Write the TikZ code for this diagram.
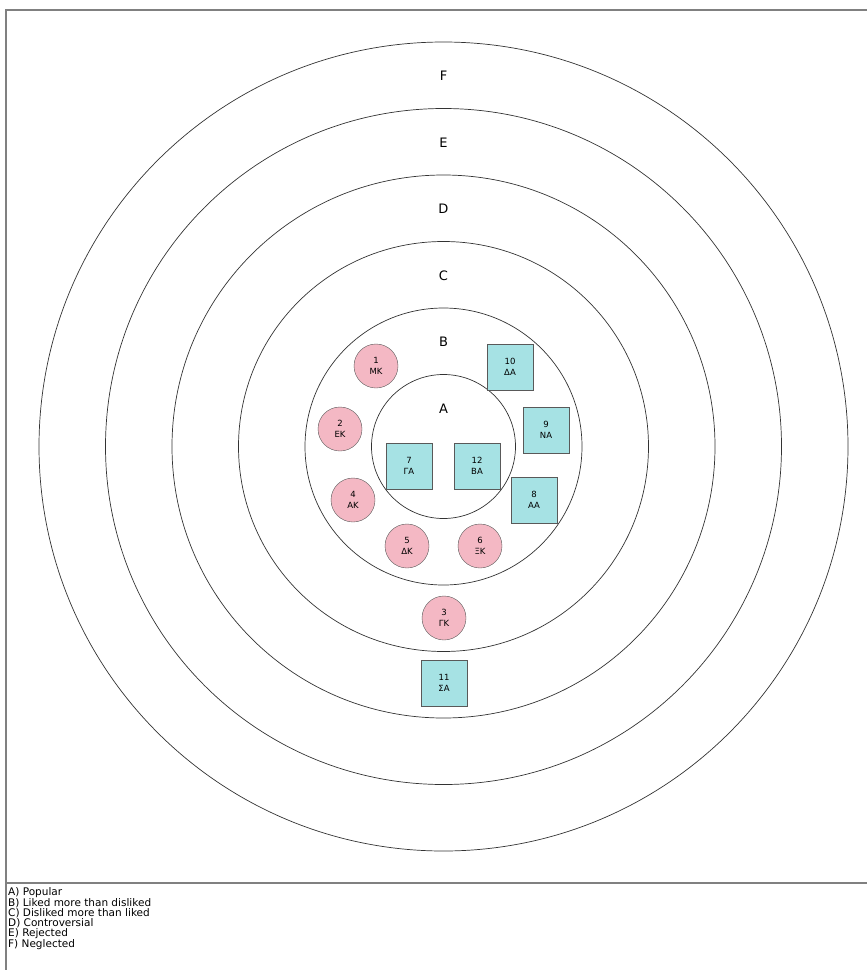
\documentclass[tikz,border=0pt]{standalone}
\usepackage{fontspec}
\setmainfont{DejaVu Sans}
\definecolor{girlpink}{RGB}{244,184,196}
\definecolor{boycyan}{RGB}{166,226,228}
\begin{document}
\begin{tikzpicture}[x=1pt, y=-1pt,
  frame/.style={draw=black!50, line width=1.6pt},
  ring/.style={draw=black!80, line width=0.7pt},
  zone/.style={font=\fontsize{13}{13}\selectfont, inner sep=0pt},
  girl/.style={circle, draw=black!65, fill=girlpink, minimum size=44pt,
               inner sep=0pt, align=center,
               font=\fontsize{8.5}{11}\selectfont},
  boy/.style={rectangle, draw=black!65, fill=boycyan, minimum size=46pt,
              inner sep=0pt, align=center,
              font=\fontsize{8.5}{11}\selectfont},
  legend/.style={align=left, inner sep=0pt,
                 font=\fontsize{10.5}{10}\selectfont}
]
  \useasboundingbox (0,0) rectangle (867,970);

  % frame
  \draw[frame] (6,970) -- (6,10) -- (868,10);
  \draw[frame] (6,883) -- (868,883);

  % rings and their letters
  \coordinate (centre) at (443.5,446.5);
  \foreach \l/\r in {A/72, B/138.5, C/205, D/271.5, E/338, F/404.5} {
    \draw[ring] (centre) circle[radius=\r pt];
    \node[zone] (zone\l) at (443.5,{480.5-\r}) {\l};
  }

  % pupils
  \node[girl] (g1) at (376,366) {1\\ΜΚ};
  \node[girl] (g2) at (340,429) {2\\ΕΚ};
  \node[girl] (g3) at (444,618) {3\\ΓΚ};
  \node[girl] (g4) at (353,500) {4\\ΑΚ};
  \node[girl] (g5) at (407,546) {5\\ΔΚ};
  \node[girl] (g6) at (480,546) {6\\ΞΚ};

  \node[boy] (b7)  at (409,466) {7\\ΓΑ};
  \node[boy] (b8)  at (534,500) {8\\ΑΑ};
  \node[boy] (b9)  at (546,430) {9\\ΝΑ};
  \node[boy] (b10) at (510,367) {10\\ΔΑ};
  \node[boy] (b11) at (444,683) {11\\ΣΑ};
  \node[boy] (b12) at (477,466) {12\\ΒΑ};

  % key
  \node[legend, anchor=north west] (key) at (8,887)
    {A) Popular\\
     B) Liked more than disliked\\
     C) Disliked more than liked\\
     D) Controversial\\
     E) Rejected\\
     F) Neglected};
\end{tikzpicture}
\end{document}
